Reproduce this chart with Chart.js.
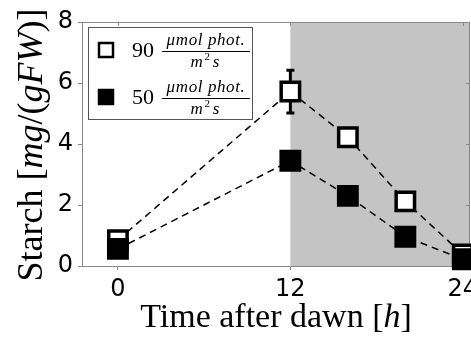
<!DOCTYPE html>
<html>
<head>
<meta charset="utf-8">
<script src="https://cdn.jsdelivr.net/npm/chart.js@4"></script>
<style>
  html, body { margin: 0; padding: 0; background: #fff; }
  canvas { display: block; }
</style>
</head>
<body>
<canvas id="starch" width="471" height="343"></canvas>
<script>
const HOURS = [0, 12, 16, 20, 24]; // hours after dawn
const STARCH_90 = [0.85, 5.72, 4.22, 2.12, 0.38]; // mg/(g FW), 90 umol
const STARCH_50 = [0.56, 3.45, 2.30, 0.96, 0.22]; // mg/(g FW), 50 umol
const ERR_90 = [0, 0.7, 0, 0, 0];
const X_TICKS = [0, 12, 24];
const Y_TICKS = [0, 2, 4, 6, 8];
const NIGHT_START = 12; // lights off

const SERIF = '"Liberation Serif", "Times New Roman", serif';
const SANS = '"DejaVu Sans", sans-serif';

const toPoints = (ys) => HOURS.map((h, i) => ({ x: h, y: ys[i] }));

// grey box for the dark period
const nightShade = {
  id: 'nightShade',
  beforeDraw(chart) {
    const { ctx, chartArea, scales } = chart;
    const x0 = scales.x.getPixelForValue(NIGHT_START);
    ctx.save();
    ctx.fillStyle = '#c4c4c4';
    ctx.fillRect(x0, chartArea.top, chartArea.right - x0, chartArea.bottom - chartArea.top);
    ctx.restore();
  }
};

// top/right spines with inward ticks + error bars
const frameAndErrors = {
  id: 'frameAndErrors',
  beforeDatasetsDraw(chart) {
    const { ctx, chartArea: a, scales } = chart;
    ctx.save();
    ctx.strokeStyle = '#888';
    ctx.lineWidth = 1;
    ctx.beginPath();
    ctx.moveTo(a.left, a.top + 0.5);
    ctx.lineTo(a.right, a.top + 0.5);
    ctx.moveTo(a.right - 0.5, a.top);
    ctx.lineTo(a.right - 0.5, a.bottom);
    X_TICKS.forEach(v => {
      const px = Math.round(scales.x.getPixelForValue(v)) + 0.5;
      ctx.moveTo(px, a.top);
      ctx.lineTo(px, a.top + 4);
    });
    Y_TICKS.forEach(v => {
      const py = Math.round(scales.y.getPixelForValue(v)) + 0.5;
      ctx.moveTo(a.right, py);
      ctx.lineTo(a.right - 4, py);
    });
    ctx.stroke();

    ctx.strokeStyle = '#000';
    ctx.lineWidth = 3;
    HOURS.forEach((h, i) => {
      if (!ERR_90[i]) return;
      const px = scales.x.getPixelForValue(h);
      const yHi = scales.y.getPixelForValue(STARCH_90[i] + ERR_90[i]);
      const yLo = scales.y.getPixelForValue(STARCH_90[i] - ERR_90[i]);
      ctx.beginPath();
      ctx.moveTo(px, yHi);
      ctx.lineTo(px, yLo);
      ctx.moveTo(px - 4, yHi);
      ctx.lineTo(px + 4, yHi);
      ctx.moveTo(px - 4, yLo);
      ctx.lineTo(px + 4, yLo);
      ctx.stroke();
    });
    ctx.restore();
  }
};

// draws a run of [text, italic] pieces from (x, y) along the baseline
function drawRich(ctx, parts, x, y, size) {
  let cx = x;
  parts.forEach(([txt, italic]) => {
    ctx.font = `${italic ? 'italic ' : ''}${size}px ${SERIF}`;
    ctx.fillText(txt, cx, y);
    cx += ctx.measureText(txt).width;
  });
  return cx;
}

function richWidth(ctx, parts, size) {
  let w = 0;
  parts.forEach(([txt, italic]) => {
    ctx.font = `${italic ? 'italic ' : ''}${size}px ${SERIF}`;
    w += ctx.measureText(txt).width;
  });
  return w;
}

// axis titles and the boxed legend
const labelsAndLegend = {
  id: 'labelsAndLegend',
  afterDraw(chart) {
    const { ctx, chartArea: a } = chart;
    ctx.save();
    ctx.fillStyle = '#000';
    ctx.textBaseline = 'alphabetic';
    ctx.textAlign = 'left';

    // x title
    const xParts = [['Time after dawn [', false], ['h', true], [']', false]];
    const xw = richWidth(ctx, xParts, 34);
    drawRich(ctx, xParts, (a.left + a.right) / 2 - xw / 2, 327, 34);

    // y title
    const yParts = [['Starch [', false], ['mg', true], ['/(', false], ['gFW', true], [')]', false]];
    const yw = richWidth(ctx, yParts, 36);
    ctx.save();
    ctx.translate(42, 145 + yw / 2);
    ctx.rotate(-Math.PI / 2);
    drawRich(ctx, yParts, 0, 0, 36);
    ctx.restore();

    // legend box
    ctx.fillStyle = '#fff';
    ctx.fillRect(88, 27, 164, 92);
    ctx.strokeStyle = '#555';
    ctx.lineWidth = 1;
    ctx.strokeRect(88.5, 27.5, 164, 92);

    const entries = [
      { value: '90', filled: false, y: 50 },
      { value: '50', filled: true, y: 97 }
    ];
    entries.forEach(e => {
      ctx.strokeStyle = '#000';
      ctx.lineWidth = 2.5;
      ctx.fillStyle = e.filled ? '#000' : '#fff';
      ctx.fillRect(99, e.y - 7, 14, 14);
      ctx.strokeRect(99, e.y - 7, 14, 14);

      ctx.fillStyle = '#000';
      ctx.font = `22px ${SERIF}`;
      ctx.fillText(e.value, 132, e.y + 7);

      ctx.font = `italic 17px ${SERIF}`;
      ctx.letterSpacing = '0.6px';
      ctx.textAlign = 'center';
      ctx.fillText('\u03bcmol phot.', 206, e.y - 5);
      const mw = ctx.measureText('m').width;
      ctx.fillText('m', 197, e.y + 17);
      ctx.font = `11px ${SERIF}`;
      ctx.fillText('2', 197 + mw / 2 + 4, e.y + 10);
      ctx.font = `italic 17px ${SERIF}`;
      ctx.fillText('s', 197 + mw / 2 + 13, e.y + 17);
      ctx.letterSpacing = '0px';
      ctx.textAlign = 'left';

      ctx.fillRect(162, e.y + 1, 88, 1);
    });
    ctx.restore();
  }
};

const seriesStyle = (filled) => ({
  showLine: true,
  borderColor: '#000',
  borderWidth: 1.5,
  borderDash: [7, 5],
  pointStyle: 'rect',
  pointRadius: 13,
  pointHoverRadius: 13,
  pointBorderWidth: 3.5,
  pointBorderColor: '#000',
  pointBackgroundColor: filled ? '#000' : '#fff',
  clip: false
});

// let the "24" label run off the canvas edge instead of shrinking the plot
function noSidePadding(scale) {
  scale.paddingLeft = 0;
  scale.paddingRight = 0;
}

window.onload = function () {
  const ctx = document.querySelector('#starch').getContext('2d');
  new Chart(ctx, {
    type: 'scatter',
    data: {
      datasets: [
        // filled series listed first so it sits on top
        { label: '50', data: toPoints(STARCH_50), ...seriesStyle(true) },
        { label: '90', data: toPoints(STARCH_90), ...seriesStyle(false) }
      ]
    },
    options: {
      responsive: false,
      animation: false,
      events: [],
      layout: { autoPadding: false, padding: { top: 22, right: 1, left: 0, bottom: 0 } },
      plugins: { legend: { display: false }, tooltip: { enabled: false } },
      scales: {
        x: {
          type: 'linear',
          min: -2.5,
          max: 24.5,
          afterBuildTicks: (scale) => { scale.ticks = X_TICKS.map(v => ({ value: v })); },
          afterFit: (scale) => { scale.height = 77; noSidePadding(scale); },
          border: { color: '#888', width: 1 },
          grid: { drawOnChartArea: false, color: '#888', tickLength: 4 },
          ticks: { color: '#000', font: { family: SANS, size: 24 }, padding: 5, maxRotation: 0 }
        },
        y: {
          min: 0,
          max: 8,
          afterBuildTicks: (scale) => { scale.ticks = Y_TICKS.map(v => ({ value: v })); },
          afterFit: (scale) => { scale.width = 82; },
          border: { color: '#888', width: 1 },
          grid: { drawOnChartArea: false, color: '#888', tickLength: 4 },
          ticks: { color: '#000', font: { family: SANS, size: 24 }, padding: 5 }
        }
      }
    },
    plugins: [nightShade, frameAndErrors, labelsAndLegend]
  });
};
</script>
</body>
</html>
